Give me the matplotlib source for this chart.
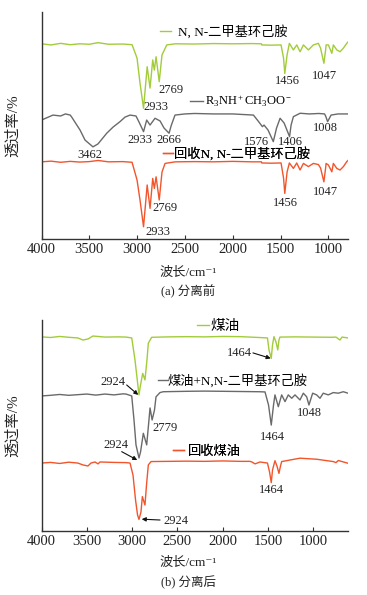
import matplotlib
matplotlib.use("Agg")
import matplotlib.pyplot as plt

FAM = ['Liberation Serif', 'Noto Sans CJK SC', 'DejaVu Serif']
plt.rcParams['font.family'] = FAM
plt.rcParams['mathtext.fontset'] = 'custom'
plt.rcParams['mathtext.rm'] = 'Liberation Serif'
plt.rcParams['mathtext.it'] = 'Liberation Serif:italic'
plt.rcParams['mathtext.default'] = 'regular'

GREEN = '#a2cc3a'
GRAY = '#6a6a6a'
ORANGE = '#f2552c'

# ---------------- (a) before separation ----------------
a_green_wn = [4000, 3900, 3800, 3700, 3600, 3500, 3409, 3300, 3150, 3053, 3001, 2970, 2933, 2895,
              2865, 2837, 2820, 2802, 2769, 2740, 2690, 2600, 2400, 2200, 2000, 1800, 1700, 1697,
              1600, 1495, 1469, 1456, 1432, 1408, 1366, 1331, 1296, 1261, 1209, 1157, 1105, 1082,
              1047, 1029, 1024, 1000, 964, 948, 912, 878, 843, 808, 795]
a_green_t = [86.0, 85.5, 86.2, 85.6, 86.0, 85.8, 86.5, 85.8, 85.9, 85.6, 79.7, 68.7, 57.6, 75.9,
             66.5, 78.9, 74.4, 80.3, 69.3, 81.1, 85.5, 86.0, 85.9, 86.1, 86.0, 86.1, 86.0, 85.5,
             85.4, 85.5, 79.7, 72.9, 81.1, 86.2, 83.3, 85.5, 82.5, 85.5, 83.3, 85.5, 86.2, 84.1,
             77.4, 83.3, 85.5, 85.5, 81.8, 85.5, 83.3, 82.5, 84.1, 86.2, 86.8]

a_gray_wn = [4000, 3880, 3800, 3750, 3700, 3684, 3597, 3545, 3462, 3409, 3318, 3252, 3179, 3127,
             3074, 3012, 2980, 2933, 2900, 2865, 2813, 2760, 2719, 2666, 2645, 2604, 2500, 2400,
             2200, 2000, 1784, 1735, 1690, 1673, 1631, 1576, 1542, 1505, 1463, 1406, 1390, 1366,
             1296, 1200, 1100, 1040, 1029, 1008, 972, 900, 795]
a_gray_t = [52.4, 54.6, 54.2, 55.1, 54.6, 53.7, 48.0, 43.6, 40.6, 41.9, 46.6, 49.3, 51.7, 53.7,
            54.6, 54.2, 51.5, 47.3, 52.4, 50.2, 53.2, 52.0, 48.9, 46.6, 49.8, 54.6, 55.1, 55.3,
            55.1, 55.1, 54.6, 52.0, 49.5, 50.2, 48.0, 42.9, 48.9, 53.2, 51.1, 45.1, 50.2, 53.9,
            55.4, 55.1, 55.3, 55.1, 54.2, 51.7, 54.6, 55.1, 55.1]

a_orange_wn = [4000, 3900, 3800, 3700, 3600, 3500, 3409, 3300, 3150, 3053, 3001, 2970, 2933, 2895,
               2865, 2837, 2820, 2802, 2769, 2740, 2708, 2600, 2400, 2200, 2000, 1800, 1700, 1697,
               1600, 1495, 1469, 1456, 1432, 1408, 1366, 1331, 1296, 1261, 1209, 1157, 1105, 1082,
               1047, 1029, 1024, 1000, 964, 948, 912, 878, 843, 808, 795]
a_orange_t = [34.0, 34.3, 33.8, 34.2, 33.9, 34.1, 34.6, 34.0, 34.1, 33.8, 26.0, 17.2, 5.4, 23.8,
              13.5, 26.7, 22.3, 27.4, 17.2, 29.5, 33.3, 34.0, 34.1, 34.0, 34.2, 34.0, 34.0, 33.5,
              33.4, 33.5, 26.9, 20.1, 29.5, 33.5, 31.1, 33.5, 30.4, 33.3, 31.9, 33.3, 32.8, 31.3,
              25.2, 31.3, 33.3, 32.6, 29.6, 33.3, 31.1, 30.4, 31.9, 34.1, 34.6]

# ---------------- (b) after separation ----------------
b_green_wn = [4000, 3900, 3800, 3700, 3600, 3542, 3487, 3432, 3300, 3150, 3067, 3004, 2968, 2924,
              2907, 2883, 2858, 2836, 2821, 2784, 2600, 2400, 2200, 2000, 1800, 1600, 1506, 1489,
              1464, 1450, 1434, 1412, 1392, 1379, 1368, 1200, 1000, 800, 750, 705, 683, 617]
b_green_t = [92.0, 91.7, 92.2, 91.8, 91.5, 90.5, 91.0, 92.4, 91.9, 92.0, 91.9, 91.5, 81.0, 64.5,
             69.2, 74.7, 71.6, 81.0, 89.0, 91.8, 92.0, 92.1, 92.0, 92.2, 92.1, 91.7, 91.5, 85.8,
             81.8, 88.2, 92.1, 89.6, 85.8, 90.5, 91.9, 92.0, 91.9, 91.8, 91.9, 90.5, 91.9, 91.5]

b_gray_wn = [4000, 3900, 3800, 3700, 3600, 3500, 3400, 3300, 3200, 3100, 3067, 3004, 2979, 2957,
             2924, 2907, 2876, 2839, 2819, 2802, 2779, 2753, 2736, 2692, 2656, 2400, 2200, 2000,
             1800, 1600, 1533, 1494, 1464, 1439, 1423, 1386, 1349, 1312, 1276, 1238, 1202, 1147,
             1110, 1073, 1048, 1007, 963, 926, 890, 835, 779, 724, 669, 617]
b_gray_t = [64.0, 64.3, 64.7, 64.3, 64.6, 64.9, 64.4, 64.9, 64.5, 65.0, 64.9, 64.0, 52.6, 40.8,
            34.6, 37.4, 46.3, 40.8, 50.2, 58.3, 52.6, 57.3, 63.6, 65.6, 66.0, 66.2, 66.3, 66.2,
            66.1, 66.0, 65.9, 59.7, 50.2, 59.7, 64.5, 58.9, 64.5, 61.3, 64.5, 62.9, 64.5, 62.1,
            65.3, 63.6, 59.7, 65.3, 64.5, 62.9, 65.3, 64.5, 65.6, 65.3, 66.0, 65.3]

b_orange_wn = [4000, 3900, 3800, 3700, 3600, 3542, 3487, 3454, 3409, 3376, 3354, 3200, 3067, 3023,
               2990, 2962, 2940, 2924, 2902, 2887, 2858, 2841, 2821, 2791, 2600, 2400, 2200, 2000,
               1800, 1700, 1677, 1643, 1588, 1506, 1483, 1464, 1450, 1423, 1401, 1379, 1362, 1349,
               1147, 963, 779, 750, 724, 617]
b_orange_t = [32.2, 32.5, 32.0, 32.6, 32.2, 31.3, 30.8, 32.2, 32.7, 31.8, 32.7, 32.5, 32.4, 32.2,
              26.5, 14.7, 7.6, 5.5, 9.0, 16.3, 12.3, 21.8, 31.3, 32.9, 33.0, 33.1, 33.0, 33.2,
              33.0, 33.0, 32.7, 31.8, 32.7, 32.2, 28.0, 22.9, 28.9, 33.3, 30.8, 27.3, 30.8, 32.9,
              34.5, 34.0, 32.9, 32.4, 33.4, 32.1]

xticks = [4000, 3500, 3000, 2500, 2000, 1500, 1000]

fig = plt.figure(figsize=(3.67, 5.95), dpi=100)
ax1 = fig.add_axes([0.1131, 0.5983, 0.8351, 0.3815])
ax2 = fig.add_axes([0.1131, 0.1076, 0.8351, 0.3546])

for ax, xr in ((ax1, (4000, 795)), (ax2, (4000, 617))):
    ax.set_xlim(*xr)
    ax.set_ylim(0, 100)
    ax.set_xticks(xticks)
    ax.set_yticks([])
    ax.spines['top'].set_visible(False)
    ax.spines['right'].set_visible(False)
    for s in ('left', 'bottom'):
        ax.spines[s].set_color('#333333')
        ax.spines[s].set_linewidth(1.0)
    ax.tick_params(axis='x', direction='in', length=3, width=0.8, color='#333333',
                   labelsize=10.5, pad=3, labelcolor='#222222')
    ax.set_ylabel('透过率/%', fontsize=11, color='#222222')
    ax.yaxis.set_label_coords(-0.07, 0.5)
    ax.set_xlabel('波长/cm⁻¹', fontsize=9.5, color='#222222')
    ax.xaxis.label.set_va('center')

ax1.xaxis.set_label_coords(0.48, -0.15)
ax2.xaxis.set_label_coords(0.48, -0.152)
ax1.text(0.48, -0.233, '(a) 分离前', transform=ax1.transAxes, ha='center', va='center',
         fontsize=9, color='#222222')
ax2.text(0.48, -0.246, '(b) 分离后', transform=ax2.transAxes, ha='center', va='center',
         fontsize=9, color='#222222')

lw = 1.0
l1g, = ax1.plot(a_green_wn, a_green_t, color=GREEN, lw=lw)
l1k, = ax1.plot(a_gray_wn, a_gray_t, color=GRAY, lw=lw)
l1o, = ax1.plot(a_orange_wn, a_orange_t, color=ORANGE, lw=lw)
l2g, = ax2.plot(b_green_wn, b_green_t, color=GREEN, lw=lw)
l2k, = ax2.plot(b_gray_wn, b_gray_t, color=GRAY, lw=lw)
l2o, = ax2.plot(b_orange_wn, b_orange_t, color=ORANGE, lw=lw)


def add_leg(ax, line, label, x, y, hl, pad, size=9.5):
    leg = ax.legend(handles=[line], labels=[label], loc='center left', bbox_to_anchor=(x, y),
                    frameon=False, handlelength=hl, handletextpad=pad, borderpad=0,
                    borderaxespad=0, prop={'family': FAM, 'size': size})
    ax.add_artist(leg)


add_leg(ax1, l1g, 'N, N-二甲基环己胺', 0.387, 0.913, 0.8, 0.55)
add_leg(ax1, l1k, r'R$_3$NH$^+$CH$_3$OO$^-$', 0.4845, 0.608, 1.05, 0.15, size=9)
add_leg(ax1, l1o, '回收N, N-二甲基环己胺', 0.396, 0.374, 0.75, 0.1)
add_leg(ax2, l2g, '煤油', 0.507, 0.968, 0.8, 0.1, size=10.5)
add_leg(ax2, l2k, '煤油+N,N-二甲基环己胺', 0.380, 0.712, 0.75, 0.0)
add_leg(ax2, l2o, '回收煤油', 0.429, 0.376, 0.8, 0.3)

fs = 9
tc = '#222222'
# labels panel (a)
ax1.text(2781, 65.6, '2769', fontsize=fs, color=tc, ha='left', va='center')
ax1.text(2938, 58.1, '2933', fontsize=fs, color=tc, ha='left', va='center')
ax1.text(1432, 69.6, '1456', fontsize=fs, color=tc, ha='center', va='center')
ax1.text(1040, 71.8, '1047', fontsize=fs, color=tc, ha='center', va='center')
ax1.text(3493, 37.0, '3462', fontsize=fs, color=tc, ha='center', va='center')
ax1.text(2970, 43.6, '2933', fontsize=fs, color=tc, ha='center', va='center')
ax1.text(2672, 43.6, '2666', fontsize=fs, color=tc, ha='center', va='center')
ax1.text(1756, 42.9, '1576', fontsize=fs, color=tc, ha='center', va='center')
ax1.text(1395, 42.9, '1406', fontsize=fs, color=tc, ha='center', va='center')
ax1.text(1035, 48.9, '1008', fontsize=fs, color=tc, ha='center', va='center')
ax1.text(2844, 13.7, '2769', fontsize=fs, color=tc, ha='left', va='center')
ax1.text(2917, 3.1, '2933', fontsize=fs, color=tc, ha='left', va='center')
ax1.text(1448, 15.9, '1456', fontsize=fs, color=tc, ha='center', va='center')
ax1.text(1029, 20.7, '1047', fontsize=fs, color=tc, ha='center', va='center')

# labels panel (b)
arrow = dict(arrowstyle='-|>', color='#111111', lw=0.8, mutation_scale=6, shrinkA=0, shrinkB=0)
ax2.text(1677, 84.4, '1464', fontsize=fs, color=tc, ha='right', va='center')
ax2.annotate('', xy=(1470, 81.8), xytext=(1666, 84.4), arrowprops=arrow)
ax2.text(3078, 70.8, '2924', fontsize=fs, color=tc, ha='right', va='center')
ax2.annotate('', xy=(2932, 64.5), xytext=(3060, 69.2), arrowprops=arrow)
ax2.text(2780, 48.8, '2779', fontsize=fs, color=tc, ha='left', va='center')
ax2.text(1042, 55.9, '1048', fontsize=fs, color=tc, ha='center', va='center')
ax2.text(1450, 44.7, '1464', fontsize=fs, color=tc, ha='center', va='center')
ax2.text(3045, 40.8, '2924', fontsize=fs, color=tc, ha='right', va='center')
ax2.annotate('', xy=(2943, 33.6), xytext=(3115, 37.6), arrowprops=arrow)
ax2.text(1461, 19.4, '1464', fontsize=fs, color=tc, ha='center', va='center')
ax2.text(2659, 4.7, '2924', fontsize=fs, color=tc, ha='left', va='center')
ax2.annotate('', xy=(2894, 5.6), xytext=(2692, 5.2), arrowprops=arrow)

fig.savefig('out.png', dpi=100)
